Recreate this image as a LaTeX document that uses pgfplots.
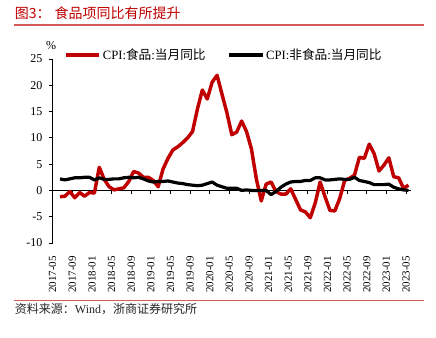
\documentclass[border=0pt]{standalone}
\usepackage{pgfplots}
\pgfplotsset{compat=1.18}
\usepackage{pgfplotstable}
\usepackage{fontspec}
\setmainfont{Liberation Serif}
\newfontfamily\cjk{Noto Sans CJK SC}
\definecolor{cred}{RGB}{192,0,0}
\definecolor{tred}{RGB}{192,0,0}
\definecolor{lred}{RGB}{215,90,90}

\pgfplotstableread{
i food nonfood
1 -1.2 2.2
2 -1.1 2.0
3 -0.2 2.2
4 -1.4 2.4
5 -0.4 2.4
6 -1.1 2.5
7 -0.4 2.5
8 -0.5 2.0
9 4.4 2.4
10 2.1 2.1
11 0.7 2.1
12 0.1 2.2
13 0.3 2.2
14 0.5 2.4
15 1.7 2.5
16 3.6 2.4
17 3.3 2.5
18 2.5 2.2
19 2.5 1.8
20 1.9 1.6
21 0.7 1.7
22 4.1 1.7
23 6.1 1.8
24 7.7 1.6
25 8.3 1.4
26 9.1 1.3
27 10.0 1.1
28 11.2 1.0
29 15.5 0.9
30 19.1 1.0
31 17.4 1.3
32 20.6 1.6
33 21.9 1.0
34 18.3 0.7
35 14.8 0.4
36 10.6 0.4
37 11.1 0.4
38 13.2 0.0
39 11.2 0.1
40 7.9 0.0
41 2.2 0.0
42 -2.0 0.0
43 1.2 0.0
44 1.6 -0.8
45 -0.2 -0.2
46 -0.7 0.6
47 -0.7 1.2
48 0.3 1.6
49 -1.7 1.7
50 -3.7 1.7
51 -4.1 1.9
52 -5.2 1.9
53 -2.4 2.4
54 1.6 2.4
55 -1.2 2.0
56 -3.8 2.0
57 -3.9 2.1
58 -1.5 2.2
59 1.9 2.1
60 2.3 2.1
61 2.9 2.5
62 6.3 1.9
63 6.1 1.7
64 8.8 1.5
65 7.0 1.1
66 3.7 1.1
67 4.8 1.1
68 6.2 1.2
69 2.6 0.6
70 2.4 0.3
71 0.4 0.1
72 1.0 0.0
}\datatab

\begin{document}
\begin{tikzpicture}
\useasboundingbox (0,0) rectangle (327pt,253.5pt);
\fill[white] (0,0) rectangle (327pt,253.5pt);
% title and frame lines
\node[anchor=west, inner sep=0pt, text=tred, font=\cjk\fontsize{10.5}{12}\selectfont] at (11pt,243.75pt) {图3：\hspace{3pt}食品项同比有所提升};
\draw[lred, line width=0.8pt] (10.5pt,234.75pt) -- (318pt,234.75pt);
\draw[lred, line width=0.8pt] (10.5pt,28pt) -- (318pt,28pt);
\node[anchor=west, inner sep=0pt, text=black!85, font=\fontsize{9}{11}\selectfont] at (11pt,22pt) {{\cjk 资料来源：}Wind{\cjk ，浙商证券研究所}};
\node[inner sep=0pt, font=\fontsize{9}{10}\selectfont] at (38.25pt,219pt) {\%};

% zero line with ticks
\begin{axis}[at={(39.5pt,71.25pt)}, anchor=south west, scale only axis,
  width=268.7pt, height=138pt,
  xmin=0, xmax=73, ymin=-10, ymax=25,
  axis x line=middle, axis y line=none,
  axis line style={-, line width=0.6pt, black},
  xtick={0,4,...,72}, xticklabels={}, ytick=\empty,
  tick align=outside, major tick length=3pt,
  tick style={line width=0.6pt, black}]
\end{axis}

\begin{axis}[at={(39.5pt,71.25pt)}, anchor=south west, scale only axis,
  width=268.7pt, height=138pt,
  xmin=0, xmax=73, ymin=-10, ymax=25,
  axis y line=left, axis x line=bottom,
  axis line style={-, line width=0.6pt, black},
  x axis line style={draw=none},
  xtick={0,4,...,72},
  xticklabels={2017-05,2017-09,2018-01,2018-05,2018-09,2019-01,2019-05,2019-09,2020-01,2020-05,2020-09,2021-01,2021-05,2021-09,2022-01,2022-05,2022-09,2023-01,2023-05},
  xtick style={draw=none},
  ytick={-10,-5,...,25},
  yticklabels={-10,-5,0,5,10,15,20,25},
  ytick style={line width=0.6pt, black},
  tick align=outside, major tick length=3pt,
  tick label style={font=\fontsize{9}{9}\selectfont},
  /pgf/number format/assume math mode=true,
  xticklabel style={rotate=90, anchor=east, inner sep=0pt, font=\fontsize{8.2}{9}\selectfont},
  yticklabel style={anchor=east, inner sep=0pt},
  xticklabel shift=6.8pt,
  yticklabel shift=4.5pt,
  legend style={at={(0.031,1.022)}, anchor=west, draw=none, fill=none, inner sep=0pt,
    font=\fontsize{9.5}{11}\selectfont,
    /tikz/every even column/.append style={column sep=15pt},
    nodes={inner sep=1.5pt}},
  legend columns=2,
  legend image code/.code={\draw[#1] (0pt,0pt) -- (25pt,0pt);},
  clip=false]
\addplot[cred, line width=2.6pt, line join=round] table[x expr=\thisrow{i}+0.5, y=food] {\datatab};
\addlegendentry{CPI:{\cjk 食品}:{\cjk 当月同比}}
\addplot[black, line width=2.4pt, line join=round] table[x expr=\thisrow{i}+0.5, y=nonfood] {\datatab};
\addlegendentry{CPI:{\cjk 非食品}:{\cjk 当月同比}}
\end{axis}
\end{tikzpicture}
\end{document}
